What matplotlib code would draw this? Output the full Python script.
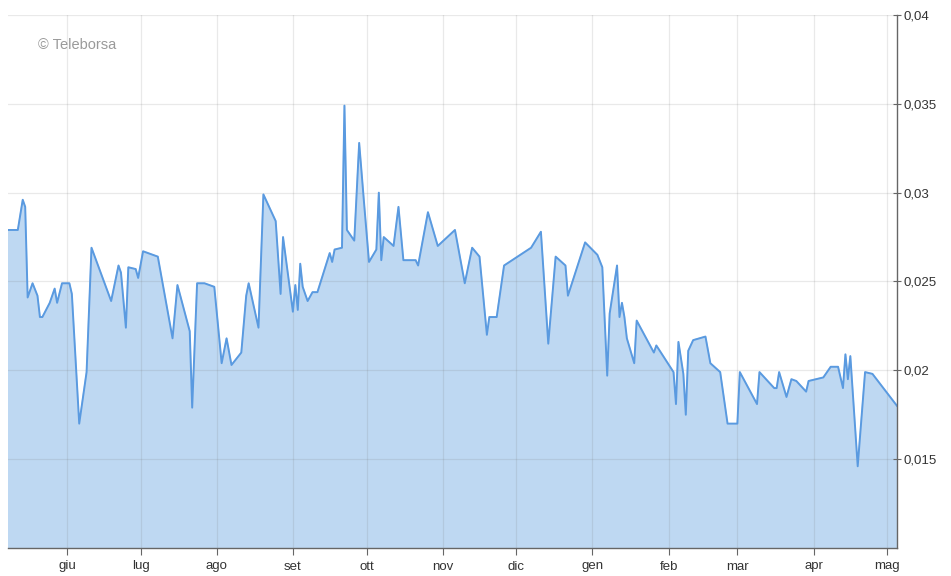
import numpy as np
import pandas as pd
import matplotlib
matplotlib.use("Agg")
import matplotlib.pyplot as plt

# daily values (May 2022 - May 2023)
dates = [
    "2022-05-08", "2022-05-12", "2022-05-14", "2022-05-15", "2022-05-16", "2022-05-17",
    "2022-05-18", "2022-05-20", "2022-05-21", "2022-05-22", "2022-05-25", "2022-05-27",
    "2022-05-28", "2022-05-30", "2022-06-02", "2022-06-03", "2022-06-06", "2022-06-09",
    "2022-06-11", "2022-06-19", "2022-06-22", "2022-06-23", "2022-06-25", "2022-06-26",
    "2022-06-29", "2022-06-30", "2022-07-02", "2022-07-08", "2022-07-14", "2022-07-16",
    "2022-07-21", "2022-07-22", "2022-07-24", "2022-07-27", "2022-07-31", "2022-08-03",
    "2022-08-05", "2022-08-07", "2022-08-11", "2022-08-13", "2022-08-14", "2022-08-18",
    "2022-08-20", "2022-08-25", "2022-08-27", "2022-08-28", "2022-09-01", "2022-09-02",
    "2022-09-03", "2022-09-04", "2022-09-05", "2022-09-07", "2022-09-09", "2022-09-11",
    "2022-09-16", "2022-09-17", "2022-09-18", "2022-09-21", "2022-09-22", "2022-09-23",
    "2022-09-26", "2022-09-28", "2022-09-30", "2022-10-02", "2022-10-05", "2022-10-06",
    "2022-10-07", "2022-10-08", "2022-10-12", "2022-10-14", "2022-10-16", "2022-10-21",
    "2022-10-22", "2022-10-26", "2022-10-30", "2022-11-06", "2022-11-10", "2022-11-13",
    "2022-11-16", "2022-11-19", "2022-11-20", "2022-11-23", "2022-11-26", "2022-12-07",
    "2022-12-11", "2022-12-14", "2022-12-17", "2022-12-21", "2022-12-22", "2022-12-29",
    "2023-01-03", "2023-01-05", "2023-01-07", "2023-01-08", "2023-01-11", "2023-01-12",
    "2023-01-13", "2023-01-14", "2023-01-15", "2023-01-18", "2023-01-19", "2023-01-26",
    "2023-01-27", "2023-02-03", "2023-02-04", "2023-02-05", "2023-02-07", "2023-02-08",
    "2023-02-09", "2023-02-11", "2023-02-16", "2023-02-18", "2023-02-22", "2023-02-25",
    "2023-03-01", "2023-03-02", "2023-03-09", "2023-03-10", "2023-03-16", "2023-03-17",
    "2023-03-18", "2023-03-21", "2023-03-23", "2023-03-25", "2023-03-29", "2023-03-30",
    "2023-04-05", "2023-04-08", "2023-04-11", "2023-04-13", "2023-04-14", "2023-04-15",
    "2023-04-16", "2023-04-19", "2023-04-22", "2023-04-25", "2023-05-05",
]
values = [
    0.0279, 0.0279, 0.0296, 0.0292, 0.0241, 0.0245,
    0.0249, 0.0242, 0.0230, 0.0230, 0.0238, 0.0246,
    0.0238, 0.0249, 0.0249, 0.0243, 0.0170, 0.0199,
    0.0269, 0.0239, 0.0259, 0.0255, 0.0224, 0.0258,
    0.0257, 0.0252, 0.0267, 0.0264, 0.0218, 0.0248,
    0.0222, 0.0179, 0.0249, 0.0249, 0.0247, 0.0204,
    0.0218, 0.0203, 0.0210, 0.0242, 0.0249, 0.0224,
    0.0299, 0.0284, 0.0243, 0.0275, 0.0233, 0.0248,
    0.0234, 0.0260, 0.0247, 0.0239, 0.0244, 0.0244,
    0.0266, 0.0261, 0.0268, 0.0269, 0.0349, 0.0279,
    0.0273, 0.0328, 0.0294, 0.0261, 0.0268, 0.0300,
    0.0262, 0.0275, 0.0270, 0.0292, 0.0262, 0.0262,
    0.0259, 0.0289, 0.0270, 0.0279, 0.0249, 0.0269,
    0.0264, 0.0220, 0.0230, 0.0230, 0.0259, 0.0269,
    0.0278, 0.0215, 0.0264, 0.0259, 0.0242, 0.0272,
    0.0265, 0.0258, 0.0197, 0.0232, 0.0259, 0.0230,
    0.0238, 0.0230, 0.0218, 0.0204, 0.0228, 0.0210,
    0.0214, 0.0199, 0.0181, 0.0216, 0.0198, 0.0175,
    0.0211, 0.0217, 0.0219, 0.0204, 0.0199, 0.0170,
    0.0170, 0.0199, 0.0181, 0.0199, 0.0190, 0.0190,
    0.0199, 0.0185, 0.0195, 0.0194, 0.0188, 0.0194,
    0.0196, 0.0202, 0.0202, 0.0190, 0.0209, 0.0195,
    0.0208, 0.0146, 0.0199, 0.0198, 0.0180,
]

month_starts = ["2022-06-01", "2022-07-01", "2022-08-01", "2022-09-01", "2022-10-01",
                "2022-11-01", "2022-12-01", "2023-01-01", "2023-02-01", "2023-03-01",
                "2023-04-01", "2023-05-01"]
month_labels = ["giu", "lug", "ago", "set", "ott", "nov", "dic", "gen", "feb", "mar",
                "apr", "mag"]
y_ticks = [0.015, 0.02, 0.025, 0.03, 0.035, 0.04]
y_labels = ["0,015", "0,02", "0,025", "0,03", "0,035", "0,04"]

x = pd.to_datetime(dates)
y = np.array(values)

plt.rcParams["font.family"] = ["Liberation Sans", "DejaVu Sans"]

fig = plt.figure(figsize=(9.51, 5.76), dpi=100)
ax = fig.add_axes([8 / 951, 1 - 548 / 576, 889 / 951, 533 / 576])

ax.fill_between(x, y, 0.0, color="#bed8f2", zorder=2)
ax.plot(x, y, color="#5a9ae0", lw=1.4, zorder=3)

ax.set_xlim(x[0], x[-1])
ax.set_ylim(0.01, 0.04)

ax.set_xticks(pd.to_datetime(month_starts))
ax.set_xticklabels(month_labels)
ax.set_yticks(y_ticks)
ax.set_yticklabels(y_labels)

ax.yaxis.tick_right()
# grid sits over the fill, under the line (shows faintly through the area)
ax.set_axisbelow(False)
ax.grid(True, color="#777777", alpha=0.16, lw=0.9)

for s in ["left", "top"]:
    ax.spines[s].set_visible(False)
for s in ["right", "bottom"]:
    ax.spines[s].set_color("#666666")
    ax.spines[s].set_linewidth(1.0)
    ax.spines[s].set_zorder(4)

ax.tick_params(axis="x", direction="out", length=5, color="#666666",
               labelsize=9.5, labelcolor="#333333", pad=4)
ax.tick_params(axis="y", direction="inout", length=6, color="#666666",
               labelsize=9.5, labelcolor="#333333", pad=2)

ax.text(0.034, 0.944, "\u00a9 Teleborsa", transform=ax.transAxes, fontsize=10.5,
        color="#9a9a9a", va="center", ha="left")

fig.savefig("out.png", dpi=100)
